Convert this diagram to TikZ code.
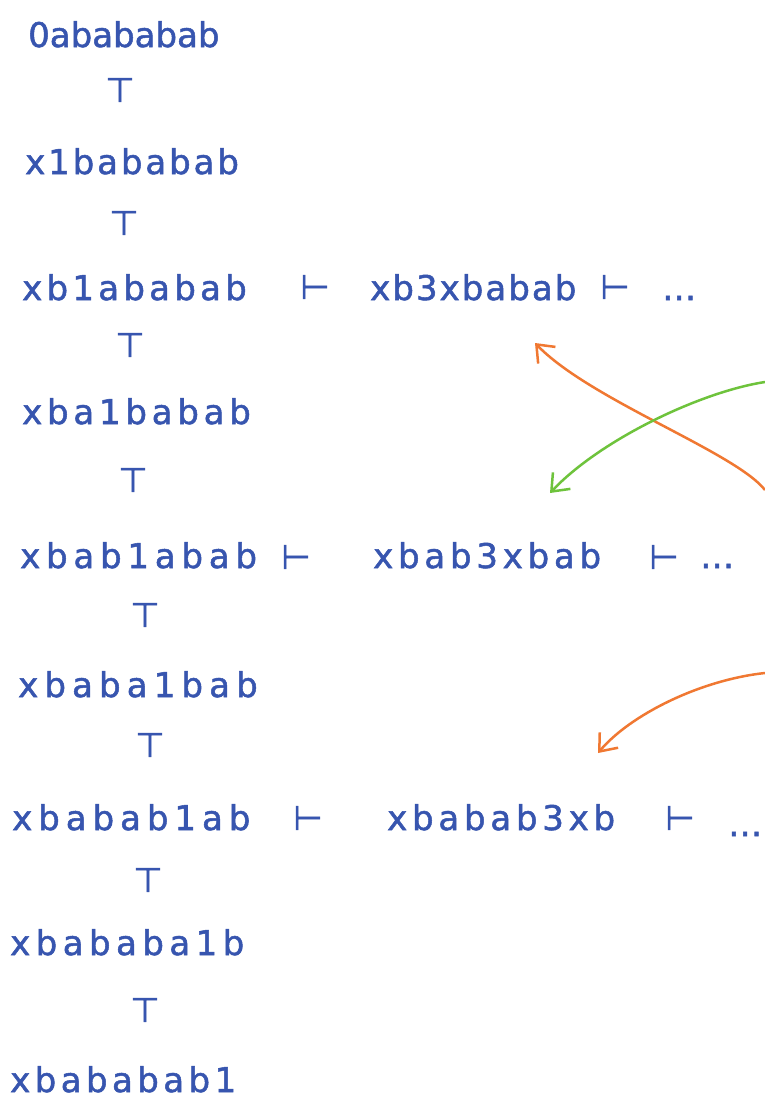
\documentclass[tikz,border=0pt]{standalone}
\usepackage{fontspec}
\setmainfont{DejaVu Sans}
\usetikzlibrary{arrows.meta}
\definecolor{ink}{RGB}{55,85,175}
\definecolor{orangeink}{RGB}{240,120,50}
\definecolor{greenink}{RGB}{110,195,60}
\begin{document}
\begin{tikzpicture}[x=1pt,y=-1pt,
  word/.style={anchor=base west, inner sep=0pt, text=ink, font=\fontsize{34}{40}\selectfont\addfontfeatures{LetterSpace=#1,FakeBold=1.5}},
  word/.default=10,
  tack/.style={inner sep=0pt, text=ink, font=\fontsize{34}{40}\selectfont\addfontfeatures{FakeBold=1.5}},
  arr/.style={line width=2.5pt, -{Straight Barb[length=15pt,width=24pt]}}]
\useasboundingbox[fill=white] (0,0) rectangle (765,1101);
% left column
\node[word=0] (r1) at (28,47) {0abababab};
\node[tack] (t1) at (120,90) {⊤};
\node[word=8.5] (r2) at (25,174) {x1bababab};
\node[tack] (t2) at (124,223) {⊤};
\node[word=12.5] (r3) at (22,300) {xb1ababab};
\node[tack] (t3) at (130,345) {⊤};
\node[word=14] (r4) at (22,424) {xba1babab};
\node[tack] (t4) at (133,480) {⊤};
\node[word=17] (r5) at (20,568) {xbab1abab};
\node[tack] (t5) at (145,615) {⊤};
\node[word=18] (r6) at (18,697) {xbaba1bab};
\node[tack] (t6) at (150,745) {⊤};
\node[word=17.5] (r7) at (12,830) {xbabab1ab};
\node[tack] (t7) at (148,880) {⊤};
\node[word=16] (r8) at (10,955) {xbababa1b};
\node[tack] (t8) at (145,1010) {⊤};
\node[word=13] (r9) at (10,1092) {xbababab1};
% right branches
\node[tack] (v3a) at (315,287) {⊢};
\node[word=6] (b3) at (370,300) {xb3xbabab};
\node[tack] (v3b) at (615,287) {⊢};
\node[word=0] (d3) at (662,300) {…};
\node[tack] (v5a) at (296,557) {⊢};
\node[word=14] (b5) at (373,568) {xbab3xbab};
\node[tack] (v5b) at (664,557) {⊢};
\node[word=0] (d5) at (700,568) {…};
\node[tack] (v7a) at (308,818) {⊢};
\node[word=14] (b7) at (387,830) {xbabab3xb};
\node[tack] (v7b) at (680,818) {⊢};
\node[word=0] (d7) at (728,836) {…};
% arrows
\coordinate (o1s) at (765,490);
\coordinate (o1e) at (535,343);
\coordinate (g1s) at (765,382);
\coordinate (g1e) at (550,493);
\coordinate (o2s) at (765,673);
\coordinate (o2e) at (598,753);
\draw[arr, orangeink] (o1s) .. controls (735,452) and (590,400) .. (o1e);
\draw[arr, greenink] (g1s) .. controls (700,392) and (600,440) .. (g1e);
\draw[arr, orangeink] (o2s) .. controls (700,680) and (630,715) .. (o2e);
\end{tikzpicture}
\end{document}
